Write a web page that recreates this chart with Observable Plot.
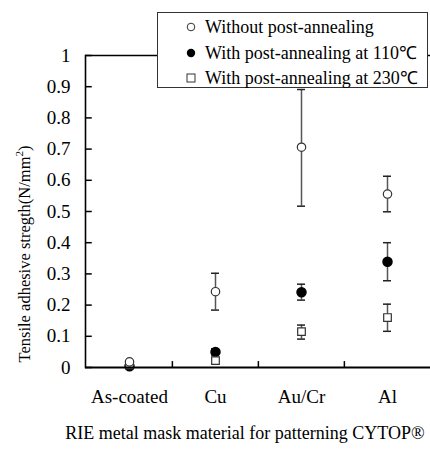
<!DOCTYPE html>
<html><head><meta charset="utf-8">
<script src="https://cdn.jsdelivr.net/npm/d3@7"></script>
<script src="https://cdn.jsdelivr.net/npm/@observablehq/plot@0.6"></script>
<style>
body{margin:0;background:#fff;}
#wrap{position:relative;width:430px;height:449px;font-family:"Liberation Serif","Times New Roman",serif;color:#000;}
#legend{position:absolute;left:157px;top:12px;width:271px;height:76px;border:1px solid #333;background:#fff;box-sizing:border-box;font-size:18px;}
.row{position:absolute;left:28px;height:20px;line-height:20px;white-space:nowrap;}
.row svg{position:absolute;left:0;top:5px;}
.row span{position:absolute;left:19px;}
#ylab{position:absolute;left:25px;top:254px;transform:translate(-50%,-50%) rotate(-90deg);white-space:nowrap;font-size:16.5px;pointer-events:none;}
#xlab{position:absolute;left:245px;top:433px;transform:translate(-50%,-50%);white-space:nowrap;font-size:18px;}
</style></head>
<body><div id="wrap"></div>
<script>
const categories = ["As-coated", "Cu", "Au/Cr", "Al"];
const seriesNames = ["Without post-annealing", "With post-annealing at 110\u2103", "With post-annealing at 230\u2103"];
const without = [0.018, 0.243, 0.706, 0.556];
const withoutLo = [0.010, 0.184, 0.517, 0.499];
const withoutHi = [0.024, 0.302, 0.891, 0.613];
const at110 = [0.004, 0.050, 0.241, 0.339];
const at110Lo = [0.002, 0.040, 0.216, 0.278];
const at110Hi = [0.006, 0.060, 0.267, 0.400];
const at230 = [0.008, 0.022, 0.115, 0.160];
const at230Lo = [0.004, 0.012, 0.091, 0.116];
const at230Hi = [0.012, 0.032, 0.136, 0.203];
const yTicks = [0, 0.1, 0.2, 0.3, 0.4, 0.5, 0.6, 0.7, 0.8, 0.9, 1];

const rows = [];
categories.forEach((c, i) => {
  rows.push({cat: c, s: 0, v: without[i], lo: withoutLo[i], hi: withoutHi[i]});
  rows.push({cat: c, s: 1, v: at110[i], lo: at110Lo[i], hi: at110Hi[i]});
  rows.push({cat: c, s: 2, v: at230[i], lo: at230Lo[i], hi: at230Hi[i]});
});
const bars = rows.filter(d => d.cat !== "As-coated");
const band = (430 - 85) / categories.length;

const plot = Plot.plot({
  width: 430, height: 449,
  marginLeft: 85, marginRight: 0, marginTop: 55, marginBottom: 82,
  style: {fontFamily: '"Liberation Serif","Times New Roman",serif', fontSize: "19px", background: "#fff", color: "#000"},
  x: {type: "band", domain: categories, padding: 0, label: null},
  y: {domain: [0, 1], label: null},
  marks: [
    Plot.axisY({ticks: yTicks, tickSize: 0, tickPadding: 15, tickFormat: d => String(d), fontSize: 19}),
    Plot.axisX({tickSize: 0, tickPadding: 22, fontSize: 19}),
    Plot.ruleY([1], {stroke: "#000", strokeWidth: 1.5}),
    Plot.frame({anchor: "left", stroke: "#000", strokeWidth: 1.6}),
    Plot.tickY(yTicks, {y: d => d, x: () => categories[0], insetRight: band - 6, stroke: "#000", strokeWidth: 1.5}),
    Plot.ruleX(categories.slice(1), {x: d => d, y1: 0, y2: 0.019, dx: -band / 2, stroke: "#000", strokeWidth: 1.5}),
    Plot.ruleX(bars, {x: "cat", y1: "lo", y2: "hi", stroke: "#555", strokeWidth: 1.5}),
    Plot.tickY(bars, {x: "cat", y: "lo", insetLeft: 39, insetRight: 39, stroke: "#222", strokeWidth: 1.5}),
    Plot.tickY(bars, {x: "cat", y: "hi", insetLeft: 39, insetRight: 39, stroke: "#222", strokeWidth: 1.5}),
    Plot.dot(rows.filter(d => d.s === 1), {x: "cat", y: "v", r: 4.5, fill: "#000", stroke: "#000", symbol: "circle"}),
    Plot.dot(rows.filter(d => d.s === 2), {x: "cat", y: "v", r: 4.3, fill: "#fff", stroke: "#333", strokeWidth: 1.2, symbol: "square"}),
    Plot.dot(rows.filter(d => d.s === 0), {x: "cat", y: "v", r: 4.2, fill: "#fff", stroke: "#333", strokeWidth: 1.2, symbol: "circle"}),
    Plot.ruleY([0], {stroke: "#000", strokeWidth: 2})
  ]
});

const wrap = document.getElementById("wrap");
wrap.appendChild(plot);

const legend = document.createElement("div");
legend.id = "legend";
const syms = [
  '<svg width="10" height="10"><circle cx="5" cy="5" r="3.8" fill="#fff" stroke="#333" stroke-width="1"/></svg>',
  '<svg width="10" height="10"><circle cx="5" cy="5" r="4.2" fill="#000"/></svg>',
  '<svg width="10" height="10"><rect x="1" y="1" width="8" height="8" fill="#fff" stroke="#333" stroke-width="1"/></svg>'
];
const tops = [4, 30, 55];
seriesNames.forEach((n, i) => {
  const r = document.createElement("div");
  r.className = "row";
  r.style.top = tops[i] + "px";
  r.innerHTML = syms[i] + "<span>" + n + "</span>";
  legend.appendChild(r);
});
wrap.appendChild(legend);

const ylab = document.createElement("div");
ylab.id = "ylab";
ylab.innerHTML = "Tensile adhesive stregth(N/mm<sup style='font-size:11px;vertical-align:7px;line-height:0'>2</sup>)";
wrap.appendChild(ylab);

const xlab = document.createElement("div");
xlab.id = "xlab";
xlab.textContent = "RIE metal mask material for patterning CYTOP\u00ae";
wrap.appendChild(xlab);
</script>
</body></html>
